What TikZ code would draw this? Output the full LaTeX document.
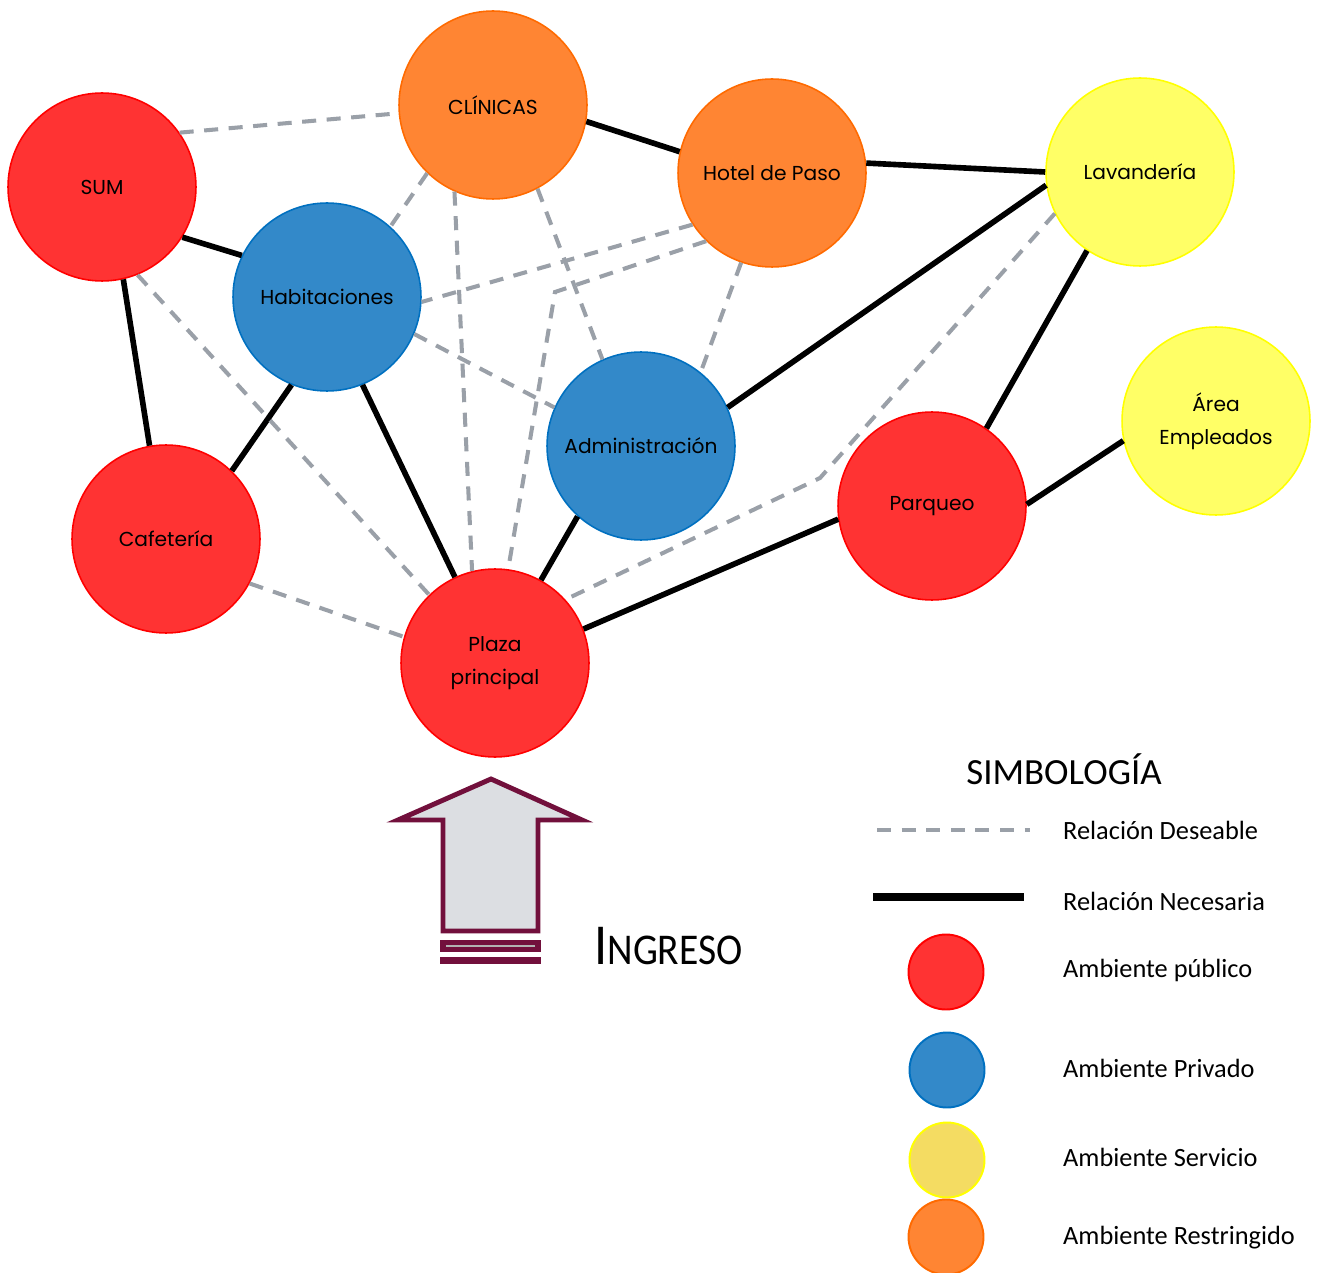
\documentclass[tikz,border=0pt]{standalone}
\usepackage{fontspec}
\setmainfont{Carlito}
\newfontfamily\ambfont{Poppins}
\usetikzlibrary{positioning}
\definecolor{amb_publico}{HTML}{FF3333}
\definecolor{amb_publico_borde}{HTML}{FF0000}
\definecolor{amb_privado}{HTML}{3389C9}
\definecolor{amb_privado_borde}{HTML}{0070C0}
\definecolor{amb_servicio}{HTML}{FFFF66}
\definecolor{amb_servicio_borde}{HTML}{FFFF00}
\definecolor{amb_servicio_ley}{HTML}{F4DC62}
\definecolor{amb_restringido}{HTML}{FF8533}
\definecolor{amb_restringido_borde}{HTML}{FF6A00}
\definecolor{rel_gris}{HTML}{9AA0A8}
\definecolor{ingreso_vino}{HTML}{72103C}
\definecolor{ingreso_fondo}{HTML}{DCDEE2}
\tikzset{
  ambiente/.style={circle, minimum size=3.76cm, inner sep=0pt, line width=0.9pt,
    align=center, font=\ambfont\fontsize{11.5}{19}\selectfont},
  publico/.style={ambiente, fill=amb_publico, draw=amb_publico_borde},
  privado/.style={ambiente, fill=amb_privado, draw=amb_privado_borde},
  servicio/.style={ambiente, fill=amb_servicio, draw=amb_servicio_borde},
  restringido/.style={ambiente, fill=amb_restringido, draw=amb_restringido_borde},
  necesaria/.style={black, line width=3.2pt},
  deseable/.style={rel_gris, line width=2.3pt, dash pattern=on 8pt off 6pt},
  muestra/.style={circle, minimum size=1.5cm, inner sep=0pt, line width=1.1pt},
  textoley/.style={anchor=west, font=\fontsize{15}{18}\selectfont},
}

\begin{document}
\begin{tikzpicture}[x=0.02cm, y=-0.02cm]
  \useasboundingbox (0,0) rectangle (1318,1273);
  % ambientes
  \node[restringido] (clinicas) at (493,105) {CLÍNICAS};
  \node[publico] (sum) at (102,187) {SUM};
  \node[restringido] (hotel) at (772,173) {Hotel de Paso};
  \node[servicio] (lavanderia) at (1140,172) {Lavandería};
  \node[privado] (habitaciones) at (327,297) {Habitaciones};
  \node[privado] (admin) at (641,446) {Administración};
  \node[servicio] (empleados) at (1216,421) {Área\\Empleados};
  \node[publico] (cafeteria) at (166,539) {Cafetería};
  \node[publico] (parqueo) at (932,506) {Parqueo};
  \node[publico] (plaza) at (495,663) {Plaza\\principal};
  \coordinate (quiebre_hotel) at (555,292);
  \coordinate (quiebre_lav) at (820,478);

  % relaciones
  \foreach \a/\b in {clinicas.350/hotel.167, hotel.6/lavanderia.180,
      sum.328/habitaciones.154, sum.283/cafeteria.100,
      habitaciones.248/cafeteria.46, habitaciones.292/plaza.115,
      admin.228/plaza.61, admin.24/lavanderia.188,
      lavanderia.236/parqueo.55, parqueo.188/plaza.21,
      parqueo.1/empleados.192} {
    \draw[necesaria] (\a) -- (\b);
  }
  \foreach \a/\b in {sum.35/clinicas.185, clinicas.226/habitaciones.48,
      clinicas.246/plaza.104, clinicas.298/admin.114,
      hotel.213/habitaciones.357, hotel.251/admin.51,
      habitaciones.337/admin.156, sum.292/plaza.134,
      cafeteria.332/plaza.164} {
    \draw[deseable] (\a) -- (\b);
  }
  \draw[deseable] (hotel.226) -- (quiebre_hotel) -- (plaza.82);
  \draw[deseable] (lavanderia.206) -- (quiebre_lav) -- (plaza.42);

  % ingreso
  \draw[ingreso_vino, fill=ingreso_fondo, line width=2.8pt, miter limit=20]
    (491,779) -- (582,820) -- (538,820) -- (538,931) -- (443,931)
    -- (443,820) -- (398,820) -- cycle;
  \fill[ingreso_vino] (440,940) rectangle (541,952);
  \draw[gray!60, line width=0.6pt] (446,946) -- (535,946);
  \fill[ingreso_vino] (440,957) rectangle (541,964);
  \node[anchor=base west, inner sep=0pt] (ingreso) at (594,964)
    {\scalebox{0.9}[1]{\fontsize{33}{36}\selectfont I\fontsize{25}{28}\selectfont NGRESO}};

  % simbologia
  \node[font=\fontsize{21}{26}\selectfont] (simbologia) at (1064,769) {SIMBOLOGÍA};
  \coordinate (des_a) at (877,830);
  \coordinate (des_b) at (1030,830);
  \coordinate (nec_a) at (873,897);
  \coordinate (nec_b) at (1024,897);
  \draw[deseable] (des_a) -- (des_b);
  \draw[black, line width=4.5pt] (nec_a) -- (nec_b);
  \node[muestra, fill=amb_publico, draw=amb_publico_borde] (m_publico) at (946,972) {};
  \node[muestra, fill=amb_privado, draw=amb_privado_borde] (m_privado) at (947,1070) {};
  \node[muestra, fill=amb_servicio_ley, draw=amb_servicio_borde] (m_servicio) at (947,1160) {};
  \node[muestra, fill=amb_restringido, draw=amb_restringido_borde] (m_restringido) at (946,1237) {};
  \node[textoley] (t_deseable) at (1057,830) {Relación Deseable};
  \node[textoley] (t_necesaria) at (1057,901) {Relación Necesaria};
  \node[textoley] (t_publico) at (1057,970) {Ambiente público};
  \node[textoley] (t_privado) at (1057,1068) {Ambiente Privado};
  \node[textoley] (t_servicio) at (1057,1157) {Ambiente Servicio};
  \node[textoley] (t_restringido) at (1057,1238) {Ambiente Restringido};
\end{tikzpicture}
\end{document}
